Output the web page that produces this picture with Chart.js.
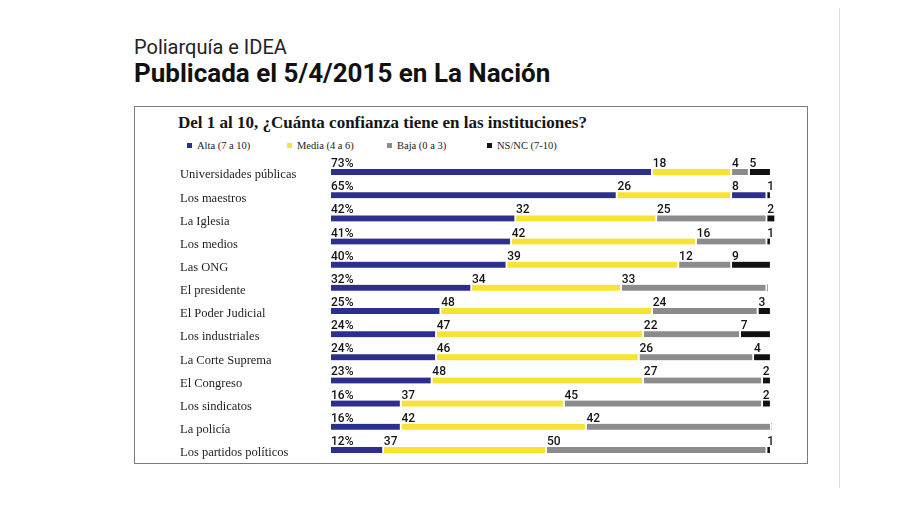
<!DOCTYPE html>
<html>
<head>
<meta charset="utf-8">
<script src="https://cdn.jsdelivr.net/npm/chart.js@4.4.1/dist/chart.umd.min.js"></script>
<style>
  html, body { margin: 0; padding: 0; background: #fff; }
  body { width: 900px; height: 506px; position: relative; overflow: hidden; }
  .pageEdge { position: absolute; left: 839px; top: 8px; width: 1px; height: 480px; background: #dcdcdc; }
  .src { position: absolute; left: 134px; top: 35px; font: 20px Roboto, sans-serif; color: #222; white-space: nowrap; }
  .pub { position: absolute; left: 134px; top: 58px; font: bold 26px Roboto, sans-serif; color: #111; white-space: nowrap; }
  .frame { position: absolute; left: 134px; top: 106px; width: 674px; height: 358px; border: 1.5px solid #7a7a7a; box-sizing: border-box; }
  .title { position: absolute; left: 178px; top: 113px; font: bold 17px "Liberation Serif", serif; color: #151515; white-space: nowrap; }
  .legend { position: absolute; left: 187px; top: 140px; display: flex; font: 10.5px "Liberation Serif", serif; color: #222; }
  .legend .item { width: 100px; display: flex; align-items: center; white-space: nowrap; }
  .legend .sw { width: 5px; height: 5px; margin-right: 5px; }
  .chartBox { position: absolute; left: 170px; top: 150px; width: 620px; height: 322px; }
</style>
</head>
<body>
<div class="pageEdge"></div>
<div class="src">Poliarquía e IDEA</div>
<div class="pub">Publicada el 5/4/2015 en La Nación</div>
<div class="frame"></div>
<div class="title">Del 1 al 10, ¿Cuánta confianza tiene en las instituciones?</div>
<div class="legend" id="legend"></div>
<div class="chartBox"><canvas id="chart"></canvas></div>
<script>
// Data
const institutions = [
    'Universidades públicas', 'Los maestros', 'La Iglesia', 'Los medios', 'Las ONG',
    'El presidente', 'El Poder Judicial', 'Los industriales', 'La Corte Suprema',
    'El Congreso', 'Los sindicatos', 'La policía', 'Los partidos políticos'
];
const seriesNames = ['Alta (7 a 10)', 'Media (4 a 6)', 'Baja (0 a 3)', 'NS/NC (7-10)'];
const alta  = [73, 65, 42, 41, 40, 32, 25, 24, 24, 23, 16, 16, 12];
const media = [18, 26, 32, 42, 39, 34, 48, 47, 46, 48, 37, 42, 37];
const baja  = [4, 8, 25, 16, 12, 33, 24, 22, 26, 27, 45, 42, 50];
const nsnc  = [5, 1, 2, 1, 9, 0, 3, 7, 4, 2, 2, 0, 1];

const BLUE = '#2c2f8e';
const YELLOW = '#f8e332';
const GRAY = '#8b8b8b';
const BLACK = '#111111';
const colors = [BLUE, YELLOW, GRAY, BLACK];

// in the original print "Los maestros" Baja bar came out blue
const bajaColors = baja.map((v, i) => i === 1 ? BLUE : GRAY);

// Legend
const legend = document.getElementById('legend');
seriesNames.forEach((name, i) => {
    const item = document.createElement('div');
    item.className = 'item';
    item.innerHTML = `<span class="sw" style="background:${colors[i]}"></span>${name}`;
    legend.appendChild(item);
});

// Numbers above each segment, at its start
const valueLabels = {
    id: 'valueLabels',
    afterDatasetsDraw(chart) {
        const ctx = chart.ctx;
        ctx.save();
        ctx.font = '500 12px Roboto, sans-serif';
        ctx.fillStyle = '#141414';
        ctx.textAlign = 'left';
        ctx.textBaseline = 'alphabetic';
        chart.data.datasets.forEach((ds, di) => {
            const meta = chart.getDatasetMeta(di);
            meta.data.forEach((bar, i) => {
                const v = ds.data[i];
                if (!v) return;
                const p = bar.getProps(['x', 'y', 'base', 'height'], true);
                const txt = di === 0 ? v + '%' : String(v);
                ctx.fillText(txt, Math.min(p.base, p.x), p.y - p.height / 2 - 2);
            });
        });
        ctx.restore();
    }
};

const makeSet = (label, data, color) => ({
    label: label,
    data: data,
    backgroundColor: color,
    borderColor: '#ffffff',
    borderWidth: { right: 2 },
    borderSkipped: false,
    barThickness: 6
});

new Chart(document.getElementById('chart'), {
    type: 'bar',
    data: {
        labels: institutions,
        datasets: [
            makeSet(seriesNames[0], alta, BLUE),
            makeSet(seriesNames[1], media, YELLOW),
            makeSet(seriesNames[2], baja, bajaColors),
            makeSet(seriesNames[3], nsnc, BLACK)
        ]
    },
    options: {
        indexAxis: 'y',
        responsive: true,
        maintainAspectRatio: false,
        animation: false,
        layout: { padding: { left: 10, right: 14, top: 5, bottom: 5 } },
        plugins: {
            legend: { display: false },
            tooltip: { enabled: false }
        },
        scales: {
            x: {
                stacked: true,
                min: 0,
                max: 101,
                display: false
            },
            y: {
                stacked: true,
                grid: { display: false },
                border: { display: false },
                afterFit: (scale) => { scale.width = 151; },
                ticks: {
                    crossAlign: 'far',
                    labelOffset: 3,
                    color: '#1e1e1e',
                    font: { family: "'Liberation Serif', serif", size: 12.5 }
                }
            }
        }
    },
    plugins: [valueLabels]
});
</script>
</body>
</html>
